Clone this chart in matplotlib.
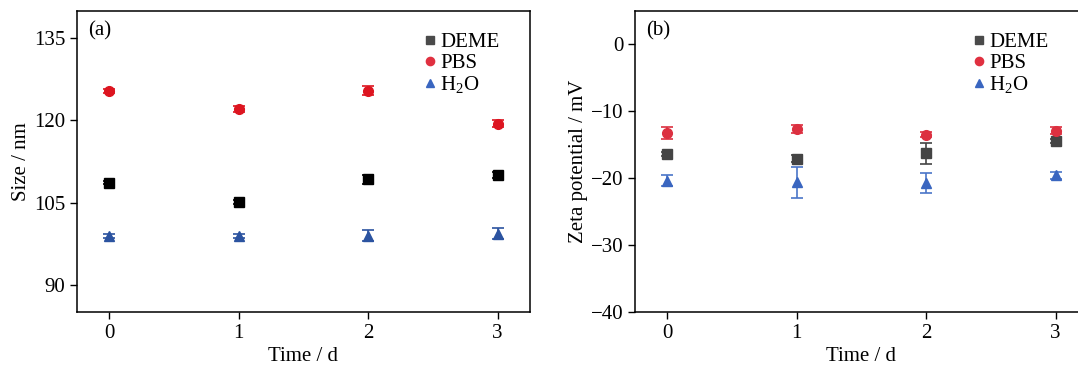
import matplotlib
matplotlib.use("Agg")
import matplotlib.pyplot as plt

plt.rcParams['font.family'] = ['Liberation Serif', 'DejaVu Serif']
plt.rcParams['mathtext.fontset'] = 'custom'
plt.rcParams['mathtext.rm'] = 'Liberation Serif'

days = [0, 1, 2, 3]

# Panel (a): size / nm
size_deme = [108.6, 105.1, 109.2, 110.0]
size_deme_err = [0.3, 0.3, 0.9, 0.6]
size_pbs = [125.3, 122.1, 125.4, 119.4]
size_pbs_err = [0.4, 0.6, 0.8, 0.7]
size_h2o = [98.9, 98.9, 98.9, 99.3]
size_h2o_err = [0.4, 0.4, 1.0, 1.0]

# Panel (b): zeta potential / mV
zeta_deme = [-16.4, -17.1, -16.3, -14.5]
zeta_deme_err = [0.3, 0.5, 1.6, 0.3]
zeta_pbs = [-13.3, -12.6, -13.5, -12.9]
zeta_pbs_err = [0.9, 0.6, 0.4, 0.5]
zeta_h2o = [-20.4, -20.6, -20.7, -19.6]
zeta_h2o_err = [0.8, 2.3, 1.5, 0.5]

labels = ['DEME', 'PBS', r'H$_2$O']

fig = plt.figure(figsize=(10.78, 3.65), dpi=100)
axa = fig.add_axes([0.0714, 0.145, 0.4202, 0.8255])
axb = fig.add_axes([0.589, 0.145, 0.4202, 0.8255])

fs = 15

def draw(ax, series, colors, ecolors, ylim, yticks, ylabel, tag, leg_x):
    markers = ['s', 'o', '^']
    sizes = [6.5, 7, 7.5]
    for (vals, errs), m, c, ec, ms in zip(series, markers, colors, ecolors, sizes):
        ax.errorbar(days, vals, yerr=errs, fmt=m, color=c, ecolor=ec,
                    markersize=ms, capsize=4, elinewidth=1.2, capthick=1.2,
                    linestyle='none', zorder=3)
    ax.set_xlim(-0.25, 3.25)
    ax.set_ylim(*ylim)
    ax.set_xticks(days)
    ax.set_yticks(yticks)
    ax.set_yticklabels([str(t).replace('-', '\u2212') for t in yticks])
    ax.tick_params(direction='out', length=5, width=1, labelsize=fs, top=False, right=False)
    ax.set_xlabel('Time / d', fontsize=fs, labelpad=3)
    ax.set_ylabel(ylabel, fontsize=fs, labelpad=2)
    for s in ax.spines.values():
        s.set_linewidth(1.1)
    ax.text(0.025, 0.965, tag, transform=ax.transAxes, fontsize=fs, va='top', ha='left')
    leg_handles = [plt.Line2D([], [], marker=m, color=c, linestyle='none', markersize=ms * 0.85)
                   for m, c, ms in zip(markers, ['#4a4a4a', '#e03040', '#3a66c0'], sizes)]
    ax.legend(leg_handles, labels, loc='upper right', frameon=False, fontsize=fs,
              handlelength=0.6, handletextpad=0.2, labelspacing=0.05,
              borderaxespad=0.3, bbox_to_anchor=(leg_x, 0.975))

draw(axa,
     [(size_deme, size_deme_err), (size_pbs, size_pbs_err), (size_h2o, size_h2o_err)],
     ['#000000', '#dd1520', '#2b53a0'], ['#000000', '#dd1520', '#2b53a0'],
     (85, 140), [90, 105, 120, 135], 'Size / nm', '(a)', 0.965)

draw(axb,
     [(zeta_deme, zeta_deme_err), (zeta_pbs, zeta_pbs_err), (zeta_h2o, zeta_h2o_err)],
     ['#444444', '#dc3040', '#3a66c0'], ['#444444', '#dc3040', '#4a75c8'],
     (-40, 5), [-40, -30, -20, -10, 0], 'Zeta potential / mV', '(b)', 0.945)

fig.savefig('out.png', dpi=100)
